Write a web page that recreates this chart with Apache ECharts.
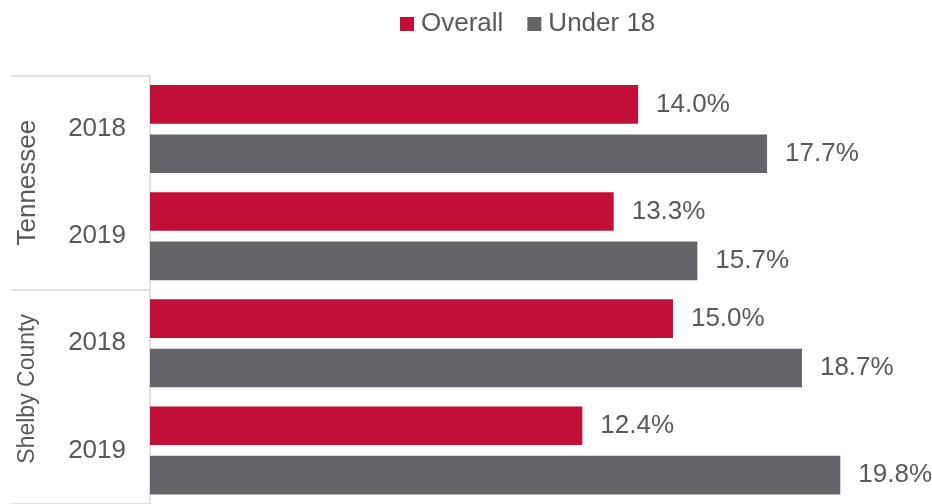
<!DOCTYPE html>
<html>
<head>
<meta charset="utf-8">
<script src="https://cdn.jsdelivr.net/npm/echarts@6/dist/echarts.min.js"></script>
<style>
  html, body { margin: 0; padding: 0; background: #fff; }
  #chart { width: 932px; height: 504px; }
</style>
</head>
<body>
<div id="chart"></div>
<script>
// Poverty rate by area and year
const years = ['2018', '2019', '2018', '2019'];
const regions = ['Tennessee', 'Shelby County'];
const overall = [14.0, 13.3, 15.0, 12.4];
const under18 = [17.7, 15.7, 18.7, 19.8];

const RED = '#C20F37';
const GRAY = '#636569';
const TEXT = '#595959';
const LINE = '#D9D9D9';
const FONT = '"Liberation Sans", Arial, sans-serif';

const chart = echarts.init(document.getElementById('chart'));

const labelStyle = {
  show: true,
  position: 'right',
  distance: 18,
  fontSize: 26,
  fontFamily: FONT,
  color: TEXT,
  formatter: p => p.value.toFixed(1) + '%'
};

// the lower group's name is set a bit smaller and slightly above its band centre
const regionData = regions.map((r, i) => i === 1
  ? { value: r, textStyle: { fontSize: 23, padding: [0, 0, 2, 16] } }
  : r);

chart.setOption({
  animation: false,
  legend: {
    top: 6,
    left: 395,
    itemWidth: 14,
    itemHeight: 14,
    itemGap: 24,
    icon: 'rect',
    textStyle: { fontSize: 26, fontFamily: FONT, color: TEXT, padding: [0, 0, 0, 2] },
    data: ['Overall', 'Under 18']
  },
  grid: { left: 150, top: 75.5, height: 433.6, right: 15, containLabel: false },
  xAxis: {
    type: 'value',
    min: 0,
    max: 22,
    show: false
  },
  yAxis: [
    {
      type: 'category',
      data: years,
      inverse: true,
      position: 'left',
      axisLine: { show: true, lineStyle: { color: LINE, width: 1.5 } },
      axisTick: { show: false },
      axisLabel: { fontSize: 26, fontFamily: FONT, color: TEXT, margin: 24, interval: 0 }
    },
    {
      type: 'category',
      data: regionData,
      inverse: true,
      position: 'left',
      axisLine: { show: false },
      axisTick: { show: true, interval: 0, length: 139, lineStyle: { color: LINE, width: 1.5 } },
      axisLabel: { fontSize: 26, fontFamily: FONT, color: TEXT, rotate: 90, margin: 109, interval: 0 }
    }
  ],
  series: [
    {
      name: 'Overall',
      type: 'bar',
      yAxisIndex: 0,
      data: overall,
      barWidth: 38.7,
      barGap: '27.6%',
      itemStyle: { color: RED },
      label: labelStyle
    },
    {
      name: 'Under 18',
      type: 'bar',
      yAxisIndex: 0,
      data: under18,
      barWidth: 38.7,
      barGap: '27.6%',
      itemStyle: { color: GRAY },
      label: labelStyle
    }
  ]
});
</script>
</body>
</html>
